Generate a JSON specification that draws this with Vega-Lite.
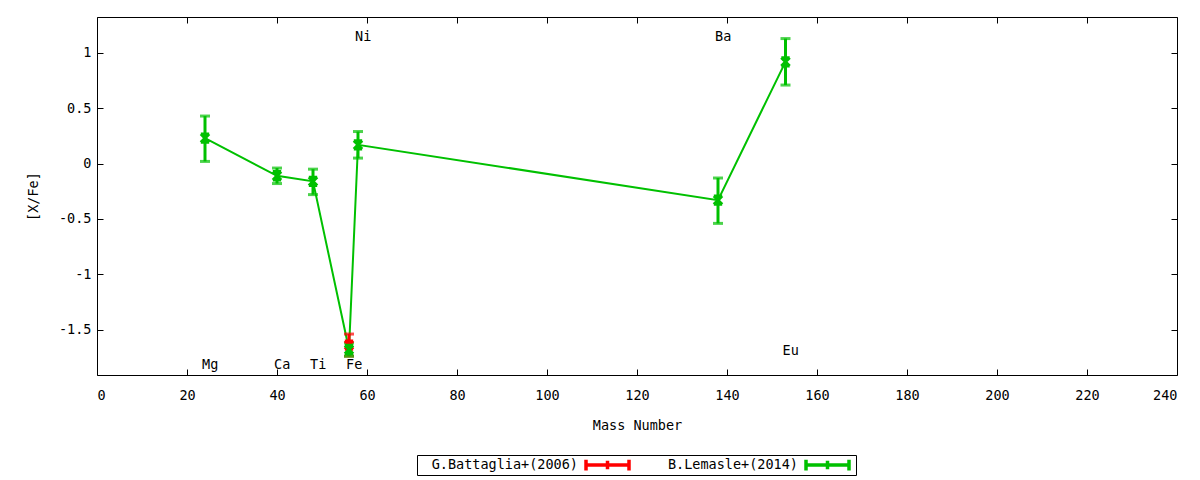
{
  "$schema": "https://vega.github.io/schema/vega-lite/v6.json",
  "autosize": "none",
  "width": 1080,
  "height": 358,
  "padding": {"left": 97, "top": 17, "right": 23, "bottom": 105},
  "background": "white",
  "config": {
    "view": {"stroke": "black", "strokeWidth": 1},
    "font": "DejaVu Sans Mono",
    "axis": {
      "grid": false,
      "domain": false,
      "tickColor": "black",
      "tickSize": -6,
      "tickWidth": 1,
      "labelFont": "DejaVu Sans Mono",
      "labelFontSize": 13.5,
      "labelColor": "black",
      "labelExpr": "'' + datum.value",
      "titleFont": "DejaVu Sans Mono",
      "titleFontSize": 13.5,
      "titleFontWeight": "normal",
      "titleColor": "black"
    },
    "legend": {
      "labelFont": "DejaVu Sans Mono",
      "labelFontSize": 13.5,
      "labelColor": "black"
    }
  },
  "datasets": {
    "points": [
      {"series": "G.Battaglia+(2006)", "element": "Fe", "mass": 56, "value": -1.64, "low": -1.74, "high": -1.54},
      {"series": "B.Lemasle+(2014)", "element": "Mg", "mass": 24, "value": 0.23, "low": 0.02, "high": 0.43},
      {"series": "B.Lemasle+(2014)", "element": "Ca", "mass": 40, "value": -0.11, "low": -0.18, "high": -0.04},
      {"series": "B.Lemasle+(2014)", "element": "Ti", "mass": 48, "value": -0.16, "low": -0.28, "high": -0.05},
      {"series": "B.Lemasle+(2014)", "element": "Fe", "mass": 56, "value": -1.68, "low": -1.74, "high": -1.62},
      {"series": "B.Lemasle+(2014)", "element": "Ni", "mass": 58, "value": 0.17, "low": 0.05, "high": 0.29},
      {"series": "B.Lemasle+(2014)", "element": "Ba", "mass": 138, "value": -0.33, "low": -0.54, "high": -0.13},
      {"series": "B.Lemasle+(2014)", "element": "Eu", "mass": 153, "value": 0.92, "low": 0.71, "high": 1.13}
    ],
    "labels": [
      {"element": "Mg", "mass": 24, "pos": -1.82},
      {"element": "Ca", "mass": 40, "pos": -1.82},
      {"element": "Ti", "mass": 48, "pos": -1.82},
      {"element": "Fe", "mass": 56, "pos": -1.82},
      {"element": "Ni", "mass": 58, "pos": 1.145},
      {"element": "Ba", "mass": 138, "pos": 1.145},
      {"element": "Eu", "mass": 153, "pos": -1.69}
    ]
  },
  "resolve": {"axis": {"x": "independent", "y": "independent"}},
  "layer": [
    {
      "data": {"name": "points"},
      "mark": {"type": "line", "strokeWidth": 2},
      "encoding": {
        "x": {"field": "mass", "type": "quantitative", "scale": {"domain": [0, 240], "nice": false},
              "axis": {"orient": "bottom", "values": [0,20,40,60,80,100,120,140,160,180,200,220,240], "title": "Mass Number", "labelPadding": 19, "titlePadding": 17}},
        "y": {"field": "value", "type": "quantitative", "scale": {"domain": [-1.91, 1.325], "nice": false, "zero": false},
              "axis": {"orient": "left", "values": [-1.5,-1,-0.5,0,0.5,1], "title": "[X/Fe]", "labelPadding": 12, "titlePadding": 18}},
        "order": {"field": "mass"},
        "color": {"field": "series", "type": "nominal",
                  "scale": {"domain": ["G.Battaglia+(2006)", "B.Lemasle+(2014)"], "range": ["#ff0000", "#00c000"]},
                  "legend": {
                    "orient": "none", "legendX": 320, "legendY": 438,
                    "direction": "horizontal", "columns": 2, "title": null,
                    "strokeColor": "black", "padding": 3,
                    "symbolType": "M-1,0H1M-1,-0.25V0.25M1,-0.25V0.25M0,-0.2V0.2",
                    "symbolSize": 64, "symbolStrokeWidth": 3,
                    "labelAlign": "right",
                    "columnPadding": 7, "clipHeight": 14,
                    "encode": {
                      "symbols": {"update": {"x": {"value": 187.5}, "y": {"value": 7}, "size": {"value": 1849}, "fill": {"value": "transparent"}, "strokeWidth": {"value": 3.5}, "opacity": {"value": 1}}},
                      "labels": {"update": {"x": {"value": 158}, "y": {"value": 7}, "align": {"value": "right"}, "baseline": {"value": "middle"}}},
                      "entries": {"update": {"width": {"value": 213}, "height": {"value": 14}}}
                    }
                  }}
      }
    },
    {
      "data": {"name": "points"},
      "mark": {"type": "rule", "strokeWidth": 3},
      "encoding": {
        "x": {"field": "mass", "type": "quantitative", "axis": {"orient": "top", "labels": false, "title": null, "values": [0,20,40,60,80,100,120,140,160,180,200,220,240]}},
        "y": {"field": "low", "type": "quantitative", "axis": {"orient": "right", "labels": false, "title": null, "values": [-1.5,-1,-0.5,0,0.5,1]}},
        "y2": {"field": "high"},
        "color": {"field": "series", "type": "nominal"}
      }
    },
    {
      "data": {"name": "points"},
      "mark": {"type": "tick", "orient": "horizontal", "size": 10, "thickness": 3},
      "encoding": {
        "x": {"field": "mass", "type": "quantitative", "axis": null},
        "y": {"field": "low", "type": "quantitative", "axis": null},
        "color": {"field": "series", "type": "nominal"}
      }
    },
    {
      "data": {"name": "points"},
      "mark": {"type": "tick", "orient": "horizontal", "size": 10, "thickness": 3},
      "encoding": {
        "x": {"field": "mass", "type": "quantitative", "axis": null},
        "y": {"field": "high", "type": "quantitative", "axis": null},
        "color": {"field": "series", "type": "nominal"}
      }
    },
    {
      "data": {"name": "points"},
      "mark": {"type": "point", "shape": "M-1,-1L1,1M-1,1L1,-1M-1,-1H1M-1,1H1", "filled": false, "size": 70, "strokeWidth": 3, "opacity": 1},
      "encoding": {
        "x": {"field": "mass", "type": "quantitative", "axis": null},
        "y": {"field": "value", "type": "quantitative", "axis": null},
        "color": {"field": "series", "type": "nominal"}
      }
    },
    {
      "data": {"name": "labels"},
      "mark": {"type": "text", "align": "left", "baseline": "middle", "dx": -3, "font": "DejaVu Sans Mono", "fontSize": 13.5, "color": "black"},
      "encoding": {
        "x": {"field": "mass", "type": "quantitative", "axis": null},
        "y": {"field": "pos", "type": "quantitative", "axis": null},
        "text": {"field": "element"}
      }
    }
  ]
}
